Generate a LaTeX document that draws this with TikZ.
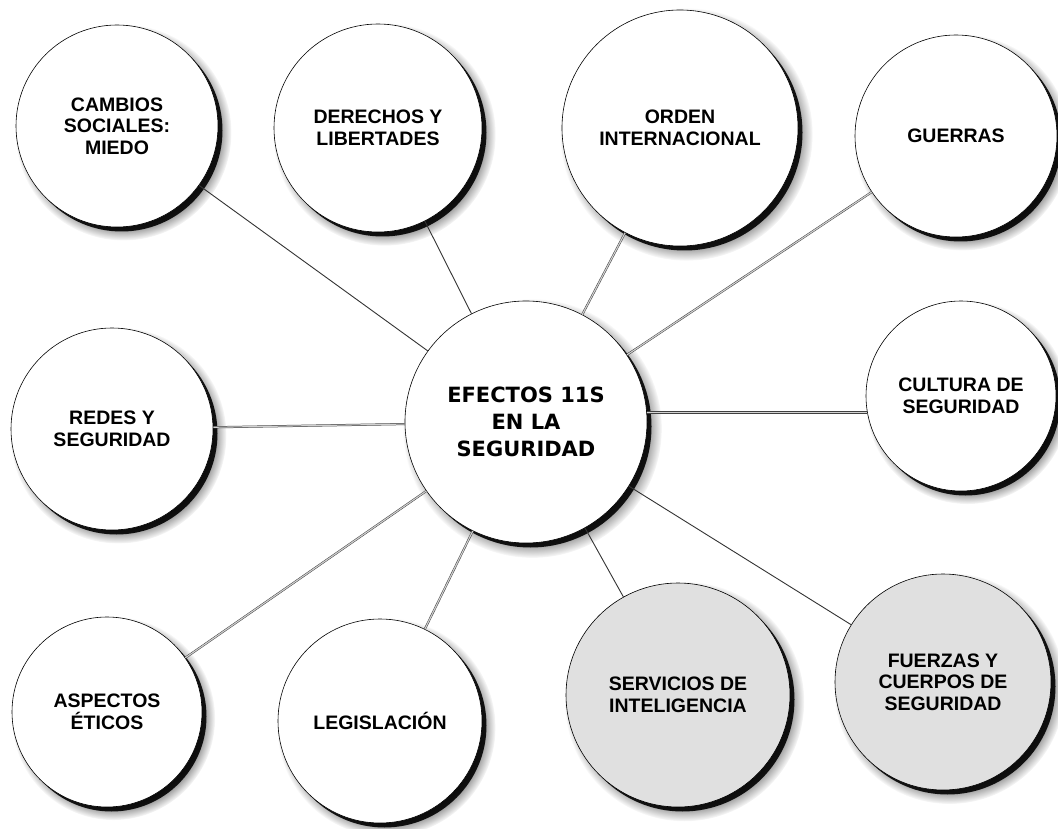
\documentclass[tikz,border=0pt]{standalone}
\usepackage{fontspec}
\setmainfont{Liberation Sans}
\newfontfamily\widefont{DejaVu Sans}
\usetikzlibrary{shadows}

\begin{document}
\begin{tikzpicture}
  [x=1pt,y=-1pt,
   every node/.style={circle,draw=black,line width=.6pt,fill=white,align=center,
     font=\fontsize{19.5}{21.5}\selectfont\bfseries,
     circular drop shadow={shadow xshift=6pt,shadow yshift=-6pt,shadow scale=1.07,fill=black,opacity=.55},
     drop shadow={shadow xshift=4.5pt,shadow yshift=-4.5pt,fill=black,opacity=.9}},
   grey/.style={fill=black!12},
   link/.style={line width=.9pt,black!80},
   twin/.style={line width=.5pt,black!75,double=black!18,double distance=1.1pt}]
  \useasboundingbox (0,0) rectangle (1058,829);

  \node[minimum size=242pt,font=\widefont\fontsize{21}{27}\selectfont\bfseries] (n0) at (526,422) {EFECTOS 11S\\EN LA\\SEGURIDAD};
  \node[minimum size=202pt] (n1) at (117,126) {CAMBIOS\\SOCIALES:\\MIEDO};
  \node[minimum size=208pt] (n2) at (378,128) {DERECHOS Y\\LIBERTADES};
  \node[minimum size=236pt] (n3) at (680,128) {ORDEN\\INTERNACIONAL};
  \node[minimum size=202pt] (n4) at (956,136) {GUERRAS};
  \node[minimum size=202pt] (n5) at (112,429) {REDES Y\\SEGURIDAD};
  \node[minimum size=190pt] (n6) at (961,396) {CULTURA DE\\SEGURIDAD};
  \node[minimum size=190pt] (n7) at (107,712) {ASPECTOS\\ÉTICOS};
  \node[minimum size=204pt] (n8) at (380,721) {LEGISLACIÓN};
  \node[minimum size=224pt,grey] (n9) at (678,695) {SERVICIOS DE\\INTELIGENCIA};
  \node[minimum size=216pt,grey] (n10) at (943,682) {FUERZAS Y\\CUERPOS DE\\SEGURIDAD};

  \draw[link] (n0) -- (n1);
  \draw[link] (n0) -- (n2);
  \draw[twin] (n0) -- (n3);
  \draw[twin] (n0) -- (n4);
  \draw[twin] (n0) -- (n5);
  \draw[twin] (n6.190) -- (n0.east |- n6.190);
  \draw[twin] (n0) -- (n7);
  \draw[twin] (n0) -- (n8);
  \draw[link] (n0) -- (n9);
  \draw[link] (n0) -- (n10);
\end{tikzpicture}
\end{document}
